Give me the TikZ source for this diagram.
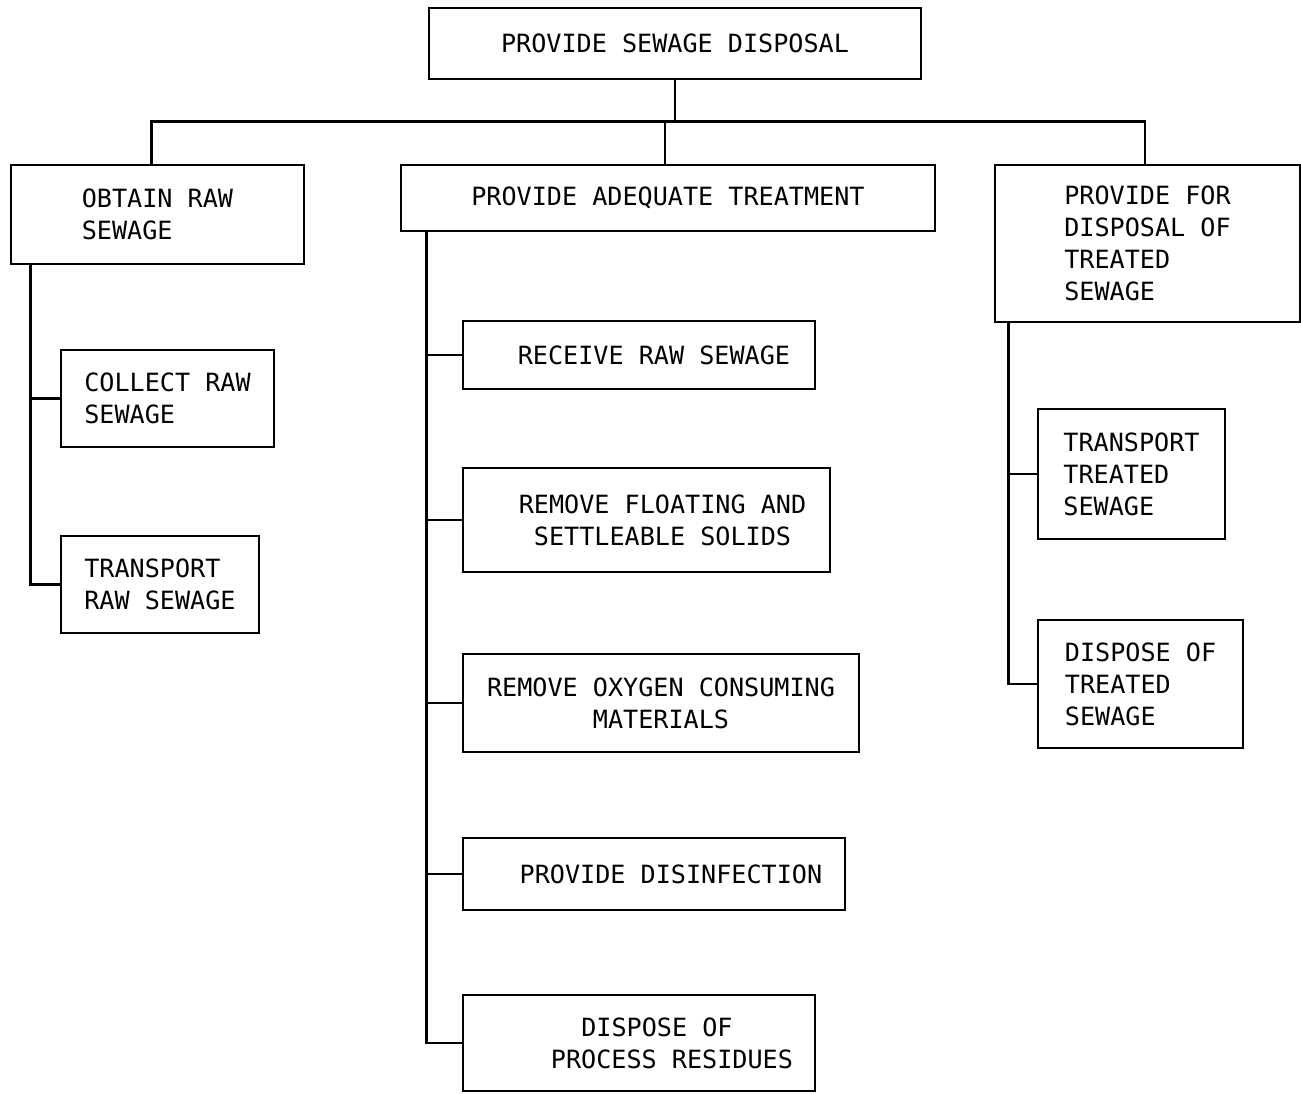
\documentclass[tikz,border=0pt]{standalone}
\usepackage{fontspec}
\setmonofont{DejaVu Sans Mono}
\usepackage{tikz}

\begin{document}
\begin{tikzpicture}[x=0.02cm,y=-0.02cm,
		box/.style={draw,line width=1.6pt,rectangle,inner sep=0pt,align=center,
			font=\ttfamily\fontsize{14.3}{18.2}\selectfont},
		link/.style={line width=1.6pt,line cap=rect}]
		\useasboundingbox (0,0) rectangle (1301,1093);
		% 顶层
		\node[box,minimum width=9.84cm,minimum height=1.42cm] (top) at (675,43.5) {PROVIDE SEWAGE DISPOSAL};
		% 第二层
		\node[box,align=left,minimum width=5.86cm,minimum height=1.98cm] (obtain) at (157.5,214.5) {OBTAIN RAW\\SEWAGE};
		\node[box,minimum width=10.68cm,minimum height=1.32cm] (treat) at (668,198) {PROVIDE ADEQUATE TREATMENT};
		\node[box,align=left,minimum width=6.1cm,minimum height=3.14cm] (dispose) at (1147.5,243.5) {PROVIDE FOR\\DISPOSAL OF\\TREATED\\SEWAGE};
		% 左列
		\node[box,align=left,minimum width=4.26cm,minimum height=1.94cm] (collect) at (167.5,398.5) {COLLECT RAW\\SEWAGE};
		\node[box,align=left,minimum width=3.96cm,minimum height=1.94cm] (transport) at (160,584.5) {TRANSPORT\\RAW SEWAGE};
		% 中列
		\node[box,minimum width=7.04cm,minimum height=1.36cm] (receive) at (639,355) {\hspace*{0.6cm}RECEIVE RAW SEWAGE};
		\node[box,minimum width=7.34cm,minimum height=2.08cm] (solids) at (646.5,520) {\hspace*{0.64cm}REMOVE FLOATING AND\\\hspace*{0.64cm}SETTLEABLE SOLIDS};
		\node[box,minimum width=7.92cm,minimum height=1.96cm] (oxygen) at (661,703) {REMOVE OXYGEN CONSUMING\\MATERIALS};
		\node[box,minimum width=7.64cm,minimum height=1.44cm] (disinf) at (654,874) {\hspace*{0.68cm}PROVIDE DISINFECTION};
		\node[box,minimum width=7.04cm,minimum height=1.92cm] (residues) at (639,1043) {\hspace*{0.72cm}DISPOSE OF\\\hspace*{1.32cm}PROCESS RESIDUES};
		% 右列
		\node[box,align=left,minimum width=3.74cm,minimum height=2.6cm] (ttrans) at (1131.5,474) {TRANSPORT\\TREATED\\SEWAGE};
		\node[box,align=left,minimum width=4.1cm,minimum height=2.56cm] (tdisp) at (1140.5,684) {DISPOSE OF\\TREATED\\SEWAGE};
		% 连线
		\draw[link] (top.south) -- ++(0,41) coordinate (bus);
		\draw[link] (bus) -| ([xshift=-0.12cm]obtain.north);
		\draw[link] (bus) -| ([xshift=-0.05cm]dispose.north);
		\draw[link] ([xshift=-0.06cm]bus -| treat.north) -- ([xshift=-0.06cm]treat.north);
		\draw[link] ([xshift=0.42cm]obtain.south west) coordinate (ltrunk) |- (transport.west);
		\draw[link] (ltrunk |- collect.west) -- (collect.west);
		\draw[link] ([xshift=0.54cm]treat.south west) coordinate (mtrunk) |- (residues.west);
		\foreach \n in {receive,solids,oxygen,disinf}
			\draw[link] (mtrunk |- \n.west) -- (\n.west);
		\draw[link] ([xshift=0.3cm]dispose.south west) coordinate (rtrunk) |- (tdisp.west);
		\draw[link] (rtrunk |- ttrans.west) -- (ttrans.west);
	\end{tikzpicture}
\end{document}
